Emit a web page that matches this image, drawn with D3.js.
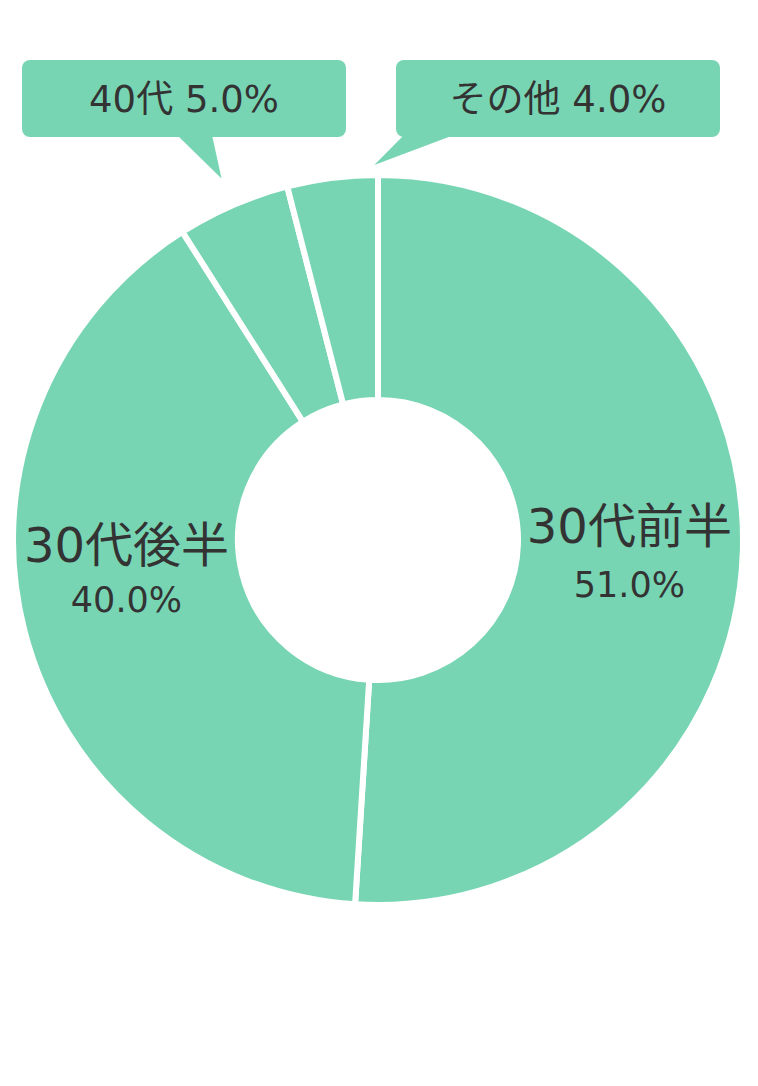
<!DOCTYPE html>
<html>
<head>
<meta charset="utf-8">
<script src="https://cdn.jsdelivr.net/npm/d3@7"></script>
<style>
  body { margin: 0; background: #fff; }
  text { font-family: "DejaVu Sans", "Noto Sans CJK JP", sans-serif; fill: #333; }
</style>
</head>
<body>
<div class="donut"></div>
<script>
// data
const labels = ['30代前半', '30代後半', '40代', 'その他'];
const values = [51.0, 40.0, 5.0, 4.0];

const width = 758;
const height = 1086;
const cx = 378, cy = 540;
const outerR = 365, innerR = 140;
const color = '#78d5b3';

const svg = d3.select('.donut')
  .append('svg')
  .attr('width', width)
  .attr('height', height);

const data = labels.map(function(l, i){ return {label: l, value: values[i]}; });

const pie = d3.pie()
  .value(function(d){ return d.value; })
  .sort(null);

const arc = d3.arc()
  .innerRadius(innerR)
  .outerRadius(outerR);

const arcs = pie(data);

const g = svg.append('g')
  .attr('transform', 'translate(' + cx + ',' + cy + ')');

g.selectAll('path')
  .data(arcs)
  .enter()
  .append('path')
  .attr('d', arc)
  .attr('fill', color)
  .attr('stroke', '#fff')
  .attr('stroke-width', 6)
  .attr('stroke-linejoin', 'miter');

// big labels inside the two large slices
const inside = arcs.filter(function(d){ return d.data.value > 10; });
const nudge = [[-1, -5, 54], [-7, -41, 50]];

inside.forEach(function(d, i){
  const c = arc.centroid(d);
  const x = c[0] + nudge[i][0];
  const y = c[1] + nudge[i][1];
  g.append('text')
    .attr('x', x)
    .attr('y', y)
    .attr('text-anchor', 'middle')
    .attr('font-size', '48px')
    .text(d.data.label);
  g.append('text')
    .attr('x', x)
    .attr('y', y + nudge[i][2])
    .attr('text-anchor', 'middle')
    .attr('font-size', '35px')
    .text(d.data.value.toFixed(1) + '%');
});

// callouts for the small slices
const callouts = arcs.filter(function(d){ return d.data.value <= 10; });
const boxes = [
  {x: 22, w: 324, base: [177, 212], tipAngle: function(d){ return (d.startAngle + d.endAngle) / 2; }, tipR: outerR + 29},
  {x: 396, w: 324, base: [404, 454], tipAngle: function(d){ return d.endAngle - 0.01; }, tipR: outerR + 10}
];
const boxY = 60, boxH = 77;

callouts.forEach(function(d, i){
  const b = boxes[i];
  const a = b.tipAngle(d);
  const tx = cx + b.tipR * Math.sin(a);
  const ty = cy - b.tipR * Math.cos(a);

  svg.append('path')
    .attr('d', 'M' + b.base[0] + ',' + (boxY + boxH - 2) + 'L' + tx + ',' + ty + 'L' + b.base[1] + ',' + (boxY + boxH - 2) + 'Z')
    .attr('fill', color);

  svg.append('rect')
    .attr('x', b.x)
    .attr('y', boxY)
    .attr('width', b.w)
    .attr('height', boxH)
    .attr('rx', 8)
    .attr('fill', color);

  svg.append('text')
    .attr('x', b.x + b.w / 2)
    .attr('y', boxY + 52)
    .attr('text-anchor', 'middle')
    .attr('font-size', '37px')
    .text(d.data.label + ' ' + d.data.value.toFixed(1) + '%');
});
</script>
</body>
</html>
